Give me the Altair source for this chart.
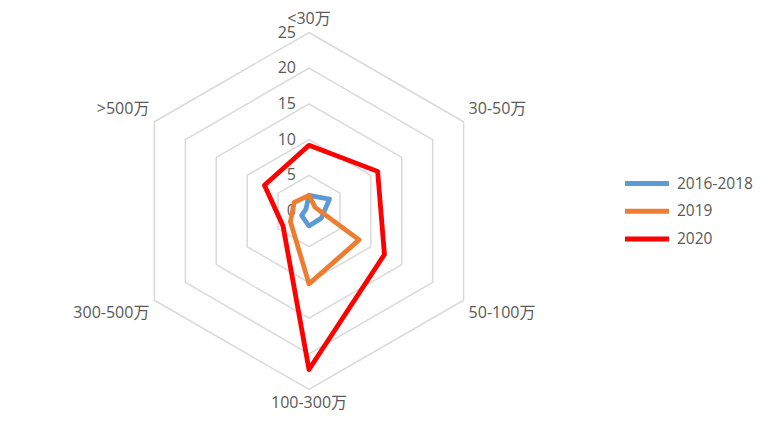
import altair as alt
import pandas as pd

categories = ["<30万", "30-50万", "50-100万", "100-300万", "300-500万", ">500万"]
series_names = ["2016-2018", "2019", "2020"]
values_2016_2018 = [2.2, 3.3, 2.0, 2.1, 1.2, 0.5]
values_2019 = [2.2, 1.0, 8.1, 10.2, 3.0, 2.4]
values_2020 = [9.2, 11.1, 12.2, 22.2, 4.2, 7.2]
ring_values = [5, 10, 15, 20, 25]
tick_values = [0, 5, 10, 15, 20, 25]
tick_labels = ["0", "5", "10", "15", "20", "25"]
colors = ["#5B9BD5", "#ED7D31", "#FF0000"]

FONT = "Open Sans, Noto Sans CJK SC"
TXT = "#595959"
n = len(categories)

# tables built from the lists
series_rows = []
for name, vals in zip(series_names, [values_2016_2018, values_2019, values_2020]):
    for k in range(n + 2):
        series_rows.append({"series": name, "idx": k % n, "value": vals[k % n], "order": k})
series_df = pd.DataFrame(series_rows)

grid_rows = []
for r in ring_values:
    for k in range(n + 2):
        grid_rows.append({"ring": r, "idx": k % n, "value": r, "order": k})
grid_df = pd.DataFrame(grid_rows)

tick_df = pd.DataFrame({"value": tick_values, "label": tick_labels})
cat_df = pd.DataFrame({"idx": list(range(n)), "label": categories})

pxu = 178.5 / 25.0
W, H = 756, 407
cx, cy = 301, 203
xs = alt.Scale(domain=[-cx / pxu, (W - cx) / pxu], nice=False, zero=False)
ys = alt.Scale(domain=[-(H - cy) / pxu, cy / pxu], nice=False, zero=False)


def to_xy(ch):
    return ch.transform_calculate(
        ang="datum.idx * PI / 3"
    ).transform_calculate(
        px="datum.value * sin(datum.ang)",
        py="datum.value * cos(datum.ang)",
    )


grid = to_xy(alt.Chart(grid_df)).mark_line(
    color="#d9d9d9", strokeWidth=1.5, strokeJoin="miter"
).encode(
    x=alt.X("px:Q", scale=xs, axis=None),
    y=alt.Y("py:Q", scale=ys, axis=None),
    detail="ring:N",
    order="order:Q",
)

ticks = alt.Chart(tick_df).transform_calculate(px="0", py="datum.value").mark_text(
    align="right", baseline="middle", dx=-13, font=FONT, fontSize=16, color=TXT
).encode(
    x=alt.X("px:Q", scale=xs, axis=None),
    y=alt.Y("py:Q", scale=ys, axis=None),
    text="label:N",
)

cat_base = alt.Chart(cat_df).transform_calculate(
    ang="datum.idx * PI / 3"
).transform_calculate(
    px="25 * sin(datum.ang) + 0.7 * (sin(datum.ang) > 0.1 ? 1 : (sin(datum.ang) < -0.1 ? -1 : 0))",
    py="25 * cos(datum.ang) + (abs(cos(datum.ang)) > 0.9 ? 1.95 : 1.8) * (cos(datum.ang) > 0 ? 1 : -1)",
    side="sin(datum.ang) > 0.1 ? 'r' : (sin(datum.ang) < -0.1 ? 'l' : 'c')",
)
cat_layers = []
for side, al in [("r", "left"), ("l", "right"), ("c", "center")]:
    cat_layers.append(
        cat_base.transform_filter(f"datum.side == '{side}'").mark_text(
            align=al, baseline="middle", font=FONT, fontSize=16, color=TXT
        ).encode(
            x=alt.X("px:Q", scale=xs, axis=None),
            y=alt.Y("py:Q", scale=ys, axis=None),
            text="label:N",
        )
    )

lines = to_xy(alt.Chart(series_df)).mark_line(strokeJoin="round", strokeWidth=4.8).encode(
    x=alt.X("px:Q", scale=xs, axis=None),
    y=alt.Y("py:Q", scale=ys, axis=None),
    color=alt.Color(
        "series:N",
        scale=alt.Scale(domain=series_names, range=colors),
        legend=alt.Legend(
            title=None,
            orient="none",
            legendX=625.5,
            legendY=162,
            symbolType="M-2,0H2",
            symbolSize=484,
            symbolStrokeWidth=5,
            labelFont=FONT,
            labelFontSize=15.5,
            labelColor=TXT,
            labelOffset=16.5,
            rowPadding=3.7,
        ),
    ),
    order="order:Q",
)

chart = alt.layer(grid, ticks, *cat_layers, lines).properties(
    width=W, height=H, padding=0, autosize="none"
).configure_view(stroke=None)

chart.save("out.html", embed_options={"renderer": "svg", "actions": False})
